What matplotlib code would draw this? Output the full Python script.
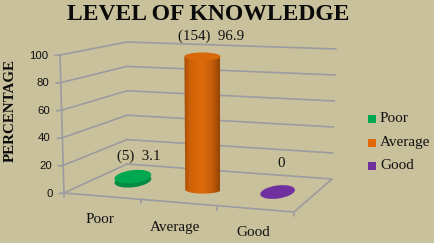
import matplotlib.pyplot as plt
import numpy as np
from matplotlib.patches import Ellipse, Polygon, Rectangle

categories = ["Poor", "Average", "Good"]
values = [3.1, 96.9, 0]
data_labels = ["(5)  3.1", "(154)  96.9", "0"]
y_ticks = [0, 20, 40, 60, 80, 100]
colors = ["#00a850", "#e06a08", "#7030a0"]
side_dark = ["#008a42", "#9c4704", "#5c2488"]

BG = "#c9c19c"
GRID = "#9b9ba0"

# pixel position of the box corners, (x, y) at value 0 and value 100
corners = {
    "fl": ((64, 193), (60, 55)),
    "fr": ((294, 212), (291, 62)),
    "bl": ((127, 164), (127, 42)),
    "br": ((332, 179), (336, 49)),
}


def project(u, d, v):
    # u = category position 0..3, d = depth 0..1, v = percent
    s = u / 3
    t = v / 100
    out = np.zeros(2)
    for key, w in (("fl", (1 - s) * (1 - d)), ("fr", s * (1 - d)),
                   ("bl", (1 - s) * d), ("br", s * d)):
        low, high = corners[key]
        out += w * ((1 - t) * np.array(low) + t * np.array(high))
    return out


def line(p, q, lw=1.2):
    ax.plot([p[0], q[0]], [p[1], q[1]], color=GRID, lw=lw, solid_capstyle="round", zorder=1)


fig = plt.figure(figsize=(4.35, 2.43), dpi=100, facecolor=BG)
ax = fig.add_axes([0, 0, 1, 1])
ax.set_xlim(0, 435)
ax.set_ylim(243, 0)
ax.axis("off")

# walls and floor
for v in y_ticks:
    line(project(0, 0, v), project(0, 1, v))
    line(project(0, 1, v), project(3, 1, v))
    p = project(0, 0, v)
    line((p[0] - 5, p[1] + 0.5), p)
    ax.text(p[0] - 11.5, p[1] + 0.5, str(v), ha="right", va="center", fontsize=8.2,
            family="Liberation Sans", color="#111111")
line(project(0, 0, 0), project(0, 0, 100))
line(project(0, 0, 0), project(3, 0, 0))
line(project(3, 0, 0), project(3, 1, 0))
for i in range(4):
    p = project(i, 0, 0)
    line(p, (p[0], p[1] + 4))

# markers
widths = [37, 36, 35]
heights = [13, 8, 13]
angles = [-7, 0, -8]
depth = [0.52, 0.48, 0.52]
for i, val in enumerate(values):
    base = project(i + 0.5, depth[i], 0)
    top = project(i + 0.5, depth[i], val)
    w, h = widths[i], heights[i]
    if val > 50:
        # tall bar: gradient body clipped to cylinder outline
        ts = np.linspace(0, np.pi, 40)
        bottom_arc = np.column_stack([base[0] + w / 2 * np.cos(ts), base[1] + 2 + h / 2 * np.sin(ts)])
        body = Polygon(np.vstack([bottom_arc, [[top[0] - w / 2, top[1]], [top[0] + w / 2, top[1]]]]),
                       closed=True, transform=ax.transData, facecolor="none", edgecolor="none")
        ax.add_patch(body)
        g = np.array([0.0, 0.15, 0.5, 0.8, 1.0])
        shade = np.array([[0.65, 0.30, 0.03], [0.80, 0.38, 0.03], [0.87, 0.42, 0.04],
                          [0.76, 0.36, 0.03], [0.58, 0.27, 0.02]])
        xs = np.linspace(0, 1, 64)
        grad = np.stack([np.interp(xs, g, shade[:, c]) for c in range(3)], axis=-1)[None, :, :]
        im = ax.imshow(grad, extent=(top[0] - w / 2, top[0] + w / 2, base[1] + 2 + h / 2, top[1]),
                       aspect="auto", zorder=3)
        im.set_clip_path(body)
        ax.set_xlim(0, 435)
        ax.set_ylim(243, 0)
        ax.add_patch(Ellipse(top, w, h, facecolor="#d9680a", edgecolor="none", zorder=4))
    else:
        if val > 0:
            ax.add_patch(Ellipse(base, w, h, angle=angles[i], facecolor=side_dark[i], edgecolor="none", zorder=3))
        ax.add_patch(Ellipse(top, w, h, angle=angles[i], facecolor=colors[i], edgecolor="none", zorder=4))

# data labels
label_pos = [(139, 156), (211, 36), (281, 163)]
for (x, y), text in zip(label_pos, data_labels):
    ax.text(x, y, text, ha="center", va="center", fontsize=10.8, family="Liberation Serif", color="#111111")

# category labels
cat_pos = [(100, 219), (175, 227), (253, 232)]
for (x, y), c in zip(cat_pos, categories):
    ax.text(x, y, c, ha="center", va="center", fontsize=11, family="Liberation Serif", color="#111111")

# legend
for y, c, col in zip([118.5, 143, 166], categories, colors):
    ax.add_patch(Rectangle((368, y - 4), 8, 8, facecolor=col, edgecolor="none"))
    ax.text(380, y - 0.5, c, ha="left", va="center", fontsize=11, family="Liberation Serif", color="#111111")

ax.text(208.5, 14, "LEVEL OF KNOWLEDGE", ha="center", va="center", fontsize=17, fontweight="bold",
        family="Liberation Serif", color="#0a0a0a")
ax.text(10, 110, "PERCENTAGE", ha="center", va="center", rotation=90, fontsize=10.8, fontweight="bold",
        family="Liberation Serif", color="#0a0a0a")

fig.savefig("out.png", dpi=100, facecolor=BG)
